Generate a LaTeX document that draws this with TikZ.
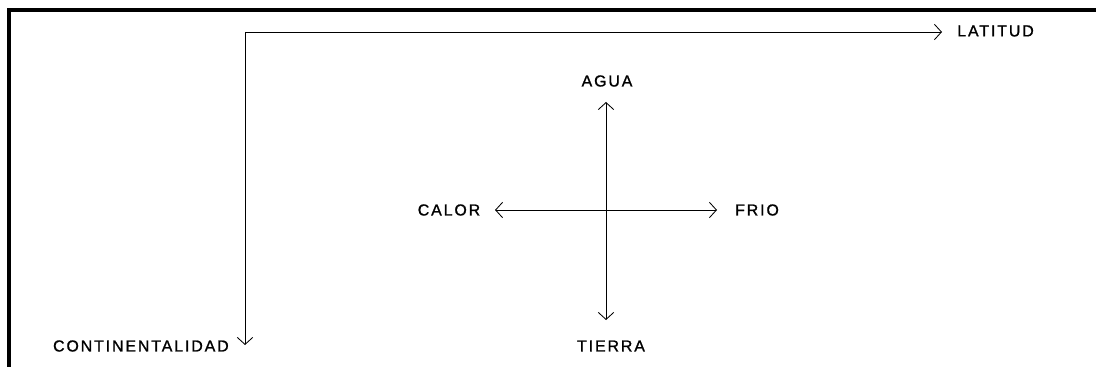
\documentclass[tikz,border=0pt]{standalone}
\usepackage{fontspec}
\setmainfont[LetterSpace=12, FakeBold=1.2]{Liberation Sans}
\usetikzlibrary{arrows.meta, positioning}
\tikzset{
  marco/.style={line width=2.2pt},
  eje/.style={line width=0.6pt, -{Straight Barb[length=5pt, width=11pt, line width=0.6pt]}},
  etiqueta/.style={font=\fontsize{11.3}{13}\selectfont, inner sep=0pt}
}

\begin{document}
\begin{tikzpicture}[x=0.025cm, y=-0.025cm]
  \useasboundingbox (0,0) rectangle (1096,367);
  % marco
  \draw[marco] (9,370) -- (9,10) -- (1100,10);
  % ejes exteriores
  \coordinate (esquina) at (245,32);
  \coordinate (finLat) at (942,32);
  \coordinate (finCont) at (245,345);
  \draw[eje] (esquina) -- (finLat);
  \draw[eje] (esquina) -- (finCont);
  \node[etiqueta, anchor=west] (latitud) at (957,31) {LATITUD};
  \node[etiqueta, anchor=east] (continentalidad) at (229,346) {CONTINENTALIDAD};
  % cruz central
  \coordinate (centro) at (606,210);
  \coordinate (puntaN) at (606,102);
  \coordinate (puntaS) at (606,320);
  \coordinate (puntaO) at (495,210);
  \coordinate (puntaE) at (717,210);
  \draw[eje] (centro) -- (puntaN);
  \draw[eje] (centro) -- (puntaS);
  \draw[eje] (centro) -- (puntaO);
  \draw[eje] (centro) -- (puntaE);
  \node[etiqueta] (agua) at (607,81) {AGUA};
  \node[etiqueta] (tierra) at (611,346) {TIERRA};
  \node[etiqueta] (calor) at (449,210) {CALOR};
  \node[etiqueta] (frio) at (757,210) {FRIO};
\end{tikzpicture}
\end{document}
